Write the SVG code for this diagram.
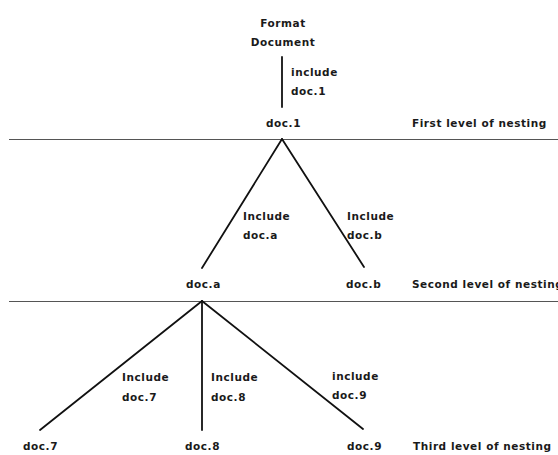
<svg xmlns="http://www.w3.org/2000/svg" width="558" height="455" viewBox="0 0 558 455">
<style>
text{font-family:"DejaVu Sans","Liberation Sans",sans-serif;font-weight:bold;font-size:10.5px;fill:#1a1a1a;letter-spacing:0.55px}
.c{text-anchor:middle}
.edge{stroke:#111;stroke-width:1.8;fill:none;stroke-linecap:round}
.rule{stroke:#555;stroke-width:1.2}
</style>
<rect width="558" height="455" fill="#fff"/>
<g id="levels">
<line class="rule" x1="9" y1="139.5" x2="558" y2="139.5"/>
<line class="rule" x1="9" y1="301.5" x2="558" y2="301.5"/>
<text x="412" y="127">First level of nesting</text>
<text x="412" y="288">Second level of nesting</text>
<text x="413" y="450">Third level of nesting</text>
</g>
<g id="connectors">
<line class="edge" x1="282" y1="57" x2="282" y2="107"/>
<line class="edge" x1="282" y1="139" x2="202" y2="268"/>
<line class="edge" x1="282" y1="139" x2="364" y2="267"/>
<line class="edge" x1="202" y1="301" x2="40" y2="430"/>
<line class="edge" x1="202" y1="301" x2="202" y2="430"/>
<line class="edge" x1="202" y1="301" x2="363" y2="429"/>
<text x="291" y="76">include</text>
<text x="291" y="95">doc.1</text>
<text x="243" y="220">Include</text>
<text x="243" y="239">doc.a</text>
<text x="347" y="220">Include</text>
<text x="347" y="239">doc.b</text>
<text x="122" y="381">Include</text>
<text x="122" y="401">doc.7</text>
<text x="211" y="381">Include</text>
<text x="211" y="401">doc.8</text>
<text x="332" y="380">include</text>
<text x="332" y="399">doc.9</text>
</g>
<g id="format-document"><text class="c" x="283" y="27">Format</text><text class="c" x="283" y="46">Document</text></g>
<g id="doc1"><text x="266" y="127">doc.1</text></g>
<g id="doca"><text x="186" y="288">doc.a</text></g>
<g id="docb"><text x="346" y="288">doc.b</text></g>
<g id="doc7"><text x="23" y="450">doc.7</text></g>
<g id="doc8"><text x="185" y="450">doc.8</text></g>
<g id="doc9"><text x="347" y="450">doc.9</text></g>
</svg>
